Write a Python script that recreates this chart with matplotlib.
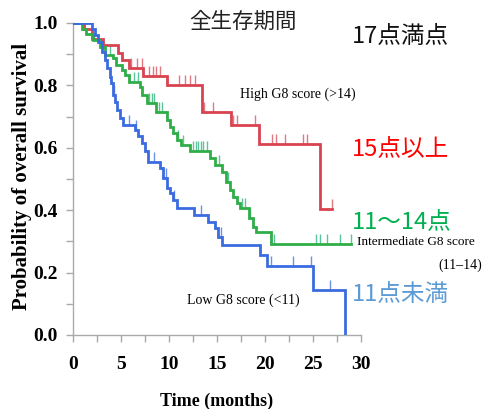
import matplotlib
matplotlib.use("Agg")
import matplotlib.pyplot as plt
import numpy as np

plt.rcParams['font.family'] = ['Liberation Serif', 'Noto Sans CJK JP']

# Kaplan-Meier step data (time in months, survival probability)
red_t = [0, 1.2, 2.0, 3.1, 4.7, 5.1, 5.8, 7.3, 9.8, 13.4, 16.5, 19.4, 25.7]
red_s = [1.0, 0.98, 0.95, 0.93, 0.905, 0.88, 0.855, 0.83, 0.80, 0.715, 0.672, 0.612, 0.403]
red_end = 27.0
red_cens = [6.1, 6.7, 7.2, 7.9, 8.3, 8.7, 9.1, 11.1, 11.7, 12.2, 12.7, 13.7, 14.6,
            16.7, 17.1, 19.0, 20.7, 21.2, 22.1, 24.0, 24.4, 27.0]

green_t = [0, 0.95, 1.4, 2.1, 2.8, 3.3, 4.2, 4.5, 5.1, 5.4, 5.8, 7.0, 7.2, 7.7, 8.7,
           9.8, 10.1, 10.45, 10.8, 11.3, 12.2, 14.3, 14.8, 15.5, 16.0, 16.35, 16.7,
           17.05, 17.4, 18.3, 18.8, 19.1, 20.6]
green_s = [1.0, 0.98, 0.965, 0.945, 0.924, 0.897, 0.887, 0.865, 0.85, 0.833, 0.812,
           0.796, 0.77, 0.743, 0.716, 0.689, 0.668, 0.646, 0.625, 0.609, 0.588, 0.566,
           0.545, 0.523, 0.491, 0.465, 0.443, 0.422, 0.406, 0.374, 0.347, 0.331, 0.29]
green_end = 29.0
green_cens = [3.9, 6.4, 6.8, 7.9, 8.2, 8.5, 9.0, 9.3, 11.0, 11.5, 12.5, 12.8, 13.0,
              13.3, 13.6, 14.0, 15.2, 16.2, 17.6, 17.9, 18.5, 21.0, 25.3, 25.7,
              26.5, 27.8, 29.0]

blue_t = [0, 2.0, 2.3, 2.64, 3.0, 3.3, 3.6, 3.85, 4.0, 4.2, 4.4, 4.55, 4.9, 5.24,
          6.5, 6.8, 7.15, 7.5, 7.8, 9.06, 9.4, 9.76, 10.1, 10.45, 10.8, 12.6, 14.1,
          14.8, 15.1, 15.5, 19.5, 20.2, 25.0, 28.4]
blue_s = [1.0, 0.98, 0.96, 0.94, 0.908, 0.88, 0.855, 0.828, 0.807, 0.77, 0.748, 0.72,
          0.695, 0.673, 0.657, 0.636, 0.614, 0.588, 0.555, 0.534, 0.502, 0.47, 0.454,
          0.433, 0.406, 0.385, 0.363, 0.342, 0.315, 0.288, 0.255, 0.221, 0.144, 0.0]
blue_end = 28.4
blue_cens = [4.3, 5.8, 6.6, 8.5, 9.7, 10.5, 13.3, 15.4, 20.6, 22.9, 24.8, 26.8]

groups = [
    (red_t, red_s, red_end, red_cens, '#d9434f', '#e07a82'),
    (green_t, green_s, green_end, green_cens, '#2fae48', '#5cc39a'),
    (blue_t, blue_s, blue_end, blue_cens, '#3a6be0', '#6b93e8'),
]

fig = plt.figure(figsize=(4.83, 4.09), dpi=100)
ax = fig.add_axes([0.151, 0.181, 0.596, 0.763])

for t, s, end, cens, col, ccol in groups:
    tt = list(t) + [end]
    ss = list(s) + [s[-1]]
    ax.step(tt, ss, where='post', color=col, lw=2.0, solid_joinstyle='miter', zorder=3)
    idx = np.searchsorted(t, cens, side='right') - 1
    cs = np.array(s)[idx]
    ax.vlines(cens, cs, cs + 0.032, color=ccol, lw=1.0, zorder=2)

ax.set_xlim(0, 30)
ax.set_ylim(0, 1)
ax.set_xticks(np.arange(0, 31, 5))
ax.set_xticks(np.arange(0, 30.1, 2.5), minor=True)
ax.set_yticks(np.arange(0, 1.01, 0.2))
ax.set_yticks(np.arange(0, 1.01, 0.1), minor=True)
ax.set_yticklabels(['%.1f' % v for v in np.arange(0, 1.01, 0.2)])
for sp in ['top', 'right']:
    ax.spines[sp].set_visible(False)
for sp in ['left', 'bottom']:
    ax.spines[sp].set_color('#aaaaaa')
    ax.spines[sp].set_linewidth(1.0)
ax.tick_params(which='both', direction='out', color='#aaaaaa', length=5, width=1.0)
ax.tick_params(axis='x', which='major', labelsize=14, pad=10)
ax.tick_params(axis='y', which='major', labelsize=14, pad=6)
for lab in ax.get_xticklabels() + ax.get_yticklabels():
    lab.set_fontweight('bold')

ax.set_xlabel('Time (months)', fontsize=13, fontweight='bold', labelpad=14)
fig.text(0.046, 0.568, 'Probability of overall survival', fontsize=15, fontweight='bold',
         rotation=90, ha='center', va='center')

ax.text(17.4, 0.772, 'High G8 score (>14)', fontsize=10, va='center', ha='left')
ax.text(11.9, 0.112, 'Low G8 score (<11)', fontsize=10, va='center', ha='left')
ax.text(29.6, 0.298, 'Intermediate G8 score', fontsize=9.5, va='center', ha='left', clip_on=False)
fig.text(0.998, 0.352, '(11\u201314)', fontsize=10, va='center', ha='right')

jp = 'Noto Sans CJK JP'
fig.text(0.503, 0.947, '全生存期間', family=jp, fontsize=15.5, ha='center', va='center', color='#222222')
fig.text(0.729, 0.910, '17点満点', family=jp, fontsize=17, ha='left', va='center', color='#111111')
fig.text(0.729, 0.636, '15点以上', family=jp, fontsize=17, ha='left', va='center', color='#ff0000')
fig.text(0.729, 0.458, '11～14点', family=jp, fontsize=17, ha='left', va='center', color='#00b050')
fig.text(0.729, 0.279, '11点未満', family=jp, fontsize=17, ha='left', va='center', color='#5b9bd5')

fig.savefig('out.png', dpi=100)
